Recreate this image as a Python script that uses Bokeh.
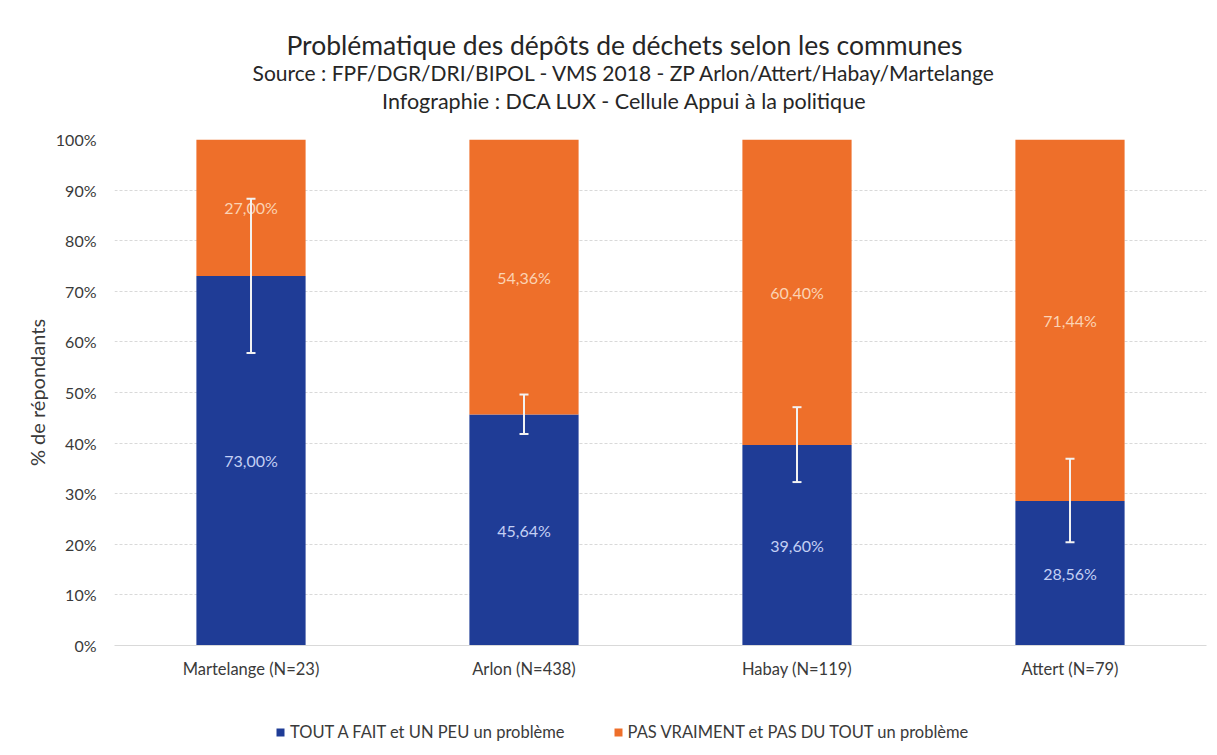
from bokeh.plotting import figure
from bokeh.layouts import column
from bokeh.models import (ColumnDataSource, FactorRange, Range1d, Whisker, TeeHead,
                          Label, Legend, LegendItem, PrintfTickFormatter, FixedTicker)
from bokeh.embed import file_html
from bokeh.resources import INLINE

communes = ["Martelange (N=23)", "Arlon (N=438)", "Habay (N=119)", "Attert (N=79)"]
probleme = [73.00, 45.64, 39.60, 28.56]
pas_probleme = [27.00, 54.36, 60.40, 71.44]
err_lower = [57.8, 41.8, 32.3, 20.4]
err_upper = [88.3, 49.6, 47.1, 36.9]
lab_probleme = ["73,00%", "45,64%", "39,60%", "28,56%"]
lab_pas = ["27,00%", "54,36%", "60,40%", "71,44%"]
series_names = ["TOUT A FAIT et UN PEU un problème", "PAS VRAIMENT et PAS DU TOUT un problème"]
y_ticks = [0, 10, 20, 30, 40, 50, 60, 70, 80, 90, 100]

title_lines = ["Problématique des dépôts de déchets selon les communes",
               "Source : FPF/DGR/DRI/BIPOL - VMS 2018 - ZP Arlon/Attert/Habay/Martelange",
               "Infographie : DCA LUX - Cellule Appui à la politique"]

FONT = "Lato"
BLUE = "#1f3c96"
ORANGE = "#ee6f2a"
TXT = "#3a3a3a"
W = 1210
FL, FR = 114, 1206   # frame left / right in page pixels

# ---- title block ----
TH = 129
pt = figure(width=W, height=TH, x_range=Range1d(FL, FR), y_range=Range1d(TH, 0),
            output_backend="svg", toolbar_location=None, min_border=0)
pt.axis.visible = False
pt.grid.visible = False
pt.outline_line_color = None
sizes = ["26.5px", "21px", "21.5px"]
ypix = [44, 72, 100]
for t, s, yy in zip(title_lines, sizes, ypix):
    pt.add_layout(Label(x=624, y=yy, text=t, text_align="center", text_baseline="middle",
                        text_font=FONT, text_font_size=s, text_color="#262626"))

# ---- main chart ----
src = ColumnDataSource(dict(
    x=communes, a=probleme, b=pas_probleme, lo=err_lower, hi=err_upper,
    ya=[v / 2 for v in probleme],
    yb=[p + q / 2 for p, q in zip(probleme, pas_probleme)],
    la=lab_probleme, lb=lab_pas,
))

p = figure(x_range=FactorRange(*communes, range_padding=0), y_range=Range1d(0, 100),
           width=W, height=579, output_backend="svg", toolbar_location=None,
           min_border_left=FL, min_border_right=W - FR, min_border_top=10, min_border_bottom=63)
p.x_range.range_padding = 0
p.outline_line_color = None

rs = p.vbar_stack(["a", "b"], x="x", width=0.4, source=src, color=[BLUE, ORANGE],
                  line_color=None)

p.text(x="x", y="ya", text="la", source=src, text_align="center", text_baseline="middle",
       text_color="#c4d0f4", text_font_size="16px", text_font={"value": FONT})
p.text(x="x", y="yb", text="lb", source=src, text_align="center", text_baseline="middle",
       text_color="#fbd3b4", text_font_size="16px", text_font={"value": FONT})

w = Whisker(source=src, base="x", lower="lo", upper="hi", line_color="#f2f2f2", line_width=2,
            upper_head=TeeHead(size=9, line_color="#f2f2f2", line_width=2),
            lower_head=TeeHead(size=9, line_color="#f2f2f2", line_width=2),
            level="overlay")
p.add_layout(w)

p.yaxis.ticker = FixedTicker(ticks=y_ticks)
p.yaxis.formatter = PrintfTickFormatter(format="%d%%")
p.yaxis.axis_line_color = None
p.yaxis.major_tick_line_color = None
p.yaxis.minor_tick_line_color = None
p.yaxis.major_label_text_font = FONT
p.yaxis.major_label_text_font_size = "16px"
p.yaxis.major_label_text_color = TXT
p.yaxis.major_label_standoff = 12
p.yaxis.axis_label = "% de répondants"
p.yaxis.axis_label_text_font = FONT
p.yaxis.axis_label_text_font_size = "20px"
p.yaxis.axis_label_text_font_style = "normal"
p.yaxis.axis_label_text_color = TXT
p.yaxis.axis_label_standoff = 4

p.xaxis.axis_line_color = "#d9d9d9"
p.xaxis.major_tick_line_color = None
p.xaxis.minor_tick_line_color = None
p.xaxis.major_label_text_font = FONT
p.xaxis.major_label_text_font_size = "16.5px"
p.xaxis.major_label_text_color = TXT
p.xaxis.major_label_standoff = 7

p.xgrid.grid_line_color = None
p.ygrid.grid_line_color = "#d9d9d9"
p.ygrid.grid_line_dash = "3 2"

# ---- legend block ----
pl = figure(width=W, height=44, x_range=Range1d(0, 1), y_range=Range1d(0, 1),
            output_backend="svg", toolbar_location=None, min_border=0)
pl.axis.visible = False
pl.grid.visible = False
pl.outline_line_color = None
d1 = pl.vbar(x=[0.5], top=[0], bottom=[0], width=0.1, color=BLUE, line_color=None)
d2 = pl.vbar(x=[0.5], top=[0], bottom=[0], width=0.1, color=ORANGE, line_color=None)
legend = Legend(items=[LegendItem(label=series_names[0], renderers=[d1]),
                       LegendItem(label=series_names[1], renderers=[d2])],
                orientation="horizontal", location=(161, 10), border_line_color=None,
                background_fill_alpha=0,
                label_text_font=FONT, label_text_font_size="16.5px", label_text_color=TXT,
                glyph_width=10, glyph_height=10, spacing=48, margin=0, padding=4,
                label_standoff=5, label_height=16)
pl.add_layout(legend)

layout = column(pt, p, pl, spacing=0)
open("out.html", "w").write(file_html(layout, INLINE))
